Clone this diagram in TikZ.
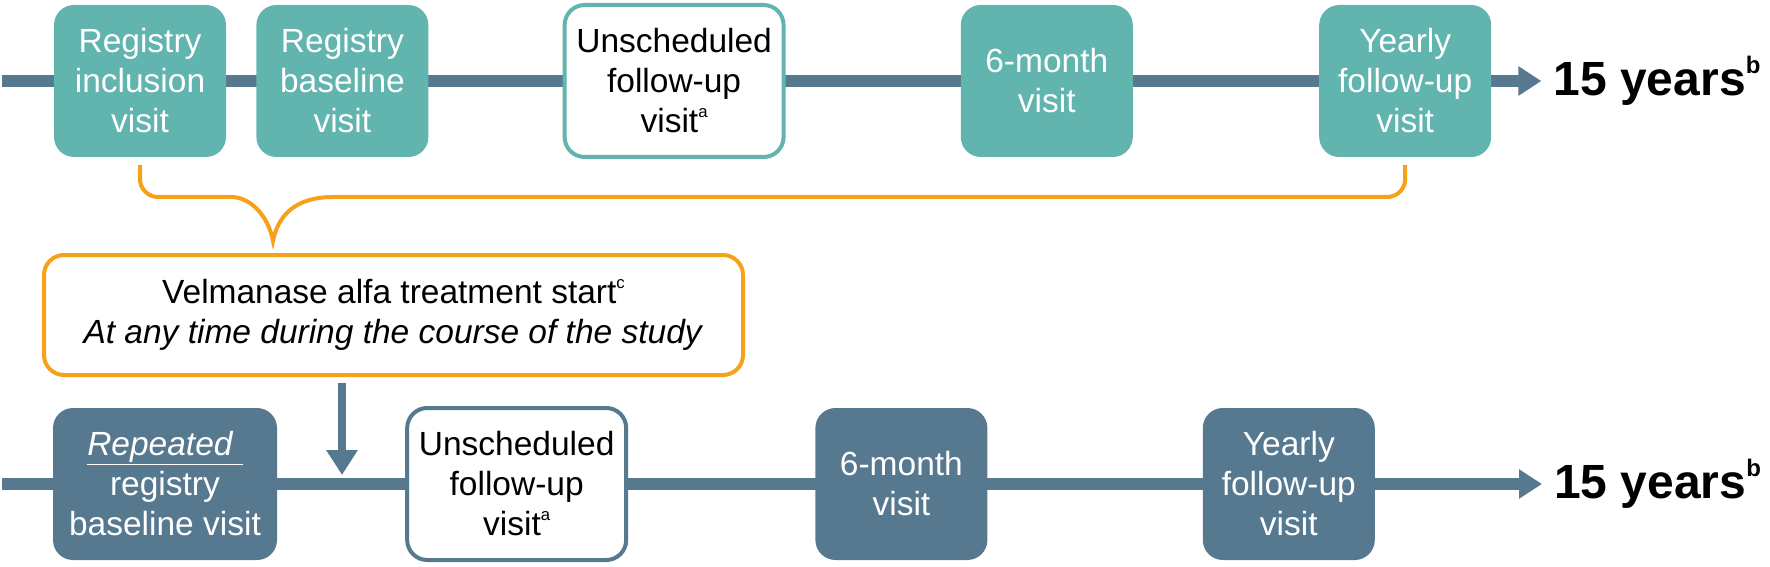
\documentclass[tikz,border=0pt]{standalone}
\usepackage{fontspec}
\setmainfont{Liberation Sans}
\usepackage{graphicx}
\usepackage{tikz}
\usetikzlibrary{positioning,arrows.meta,backgrounds}
\definecolor{myteal}{RGB}{97,181,174}
\definecolor{myslate}{RGB}{87,121,143}
\definecolor{myorange}{RGB}{247,161,27}
\newcommand\visitfont{\fontsize{33.5}{40}\selectfont}
\newcommand\yearsfont{\fontsize{48}{56}\selectfont\bfseries}
\newcommand\sups[1]{\raisebox{0.85ex}{\scalebox{.5}{#1}}}
\tikzstyle{visit}=[rounded corners=20pt, minimum width=172pt, minimum height=152pt, inner sep=2pt, align=center, font=\visitfont]
\tikzstyle{upper}=[visit, fill=myteal, text=white]
\tikzstyle{lower}=[visit, fill=myslate, text=white]
\tikzstyle{unsched}=[visit, fill=white, line width=4pt, minimum width=219pt]
\tikzstyle{startbox}=[draw=myorange, line width=4pt, rounded corners=20pt, minimum width=699pt, minimum height=120pt, align=center, font=\visitfont]
\tikzstyle{timeline}=[line width=12pt, myslate, -{Triangle[length=23pt,width=28pt]}]
\tikzstyle{droparrow}=[line width=8pt, myslate, -{Triangle[length=25pt,width=30pt]}]
\tikzstyle{brace}=[line width=4pt, myorange]

\begin{document}
\begin{tikzpicture}[x=1pt, y=1pt]

	\useasboundingbox (0,0) rectangle (1770,566);

	\node[upper] (inclA) at (140,485) {Registry\\inclusion\\visit};
	\node[upper, right=30pt of inclA] (baseA) {Registry\\baseline\\visit};
	\node[unsched, draw=myteal, right=134pt of baseA] (unsA) {Unscheduled\\follow-up\\visit\sups{a}};
	\node[upper, right=175pt of unsA] (sixA) {6-month\\visit};
	\node[upper, right=186pt of sixA] (yearA) {Yearly\\follow-up\\visit};
	\node[right=62pt of yearA, inner sep=0, font=\yearsfont] (yrsA) {15 years\sups{b}};

	\node[startbox] (vel) at (393.5,251) {Velmanase alfa treatment start\sups{c}\\\textit{At any time during the course of the study}};

	\node[lower, minimum width=224pt] (rep) at (165,82) {\underline{\textit{Repeated}\ }\\registry\\baseline visit};
	\node[unsched, draw=myslate, right=128pt of rep] (unsB) {Unscheduled\\follow-up\\visit\sups{a}};
	\node[lower, right=187pt of unsB] (sixB) {6-month\\visit};
	\node[lower, right=215pt of sixB] (yearB) {Yearly\\follow-up\\visit};
	\node[right=179pt of yearB, inner sep=0, font=\yearsfont] (yrsB) {15 years\sups{b}};

	\coordinate (startA) at (2,485);
	\coordinate (startB) at (2,82);
	\coordinate (tip) at (273,325);
	\coordinate (drop) at (342,91);

	\begin{scope}[on background layer]
		\draw[timeline] (startA) -- ([xshift=-12pt]yrsA.west);
		\draw[timeline] (startB) -- ([xshift=-12pt]yrsB.west);
	\end{scope}

	\draw[brace] ([yshift=-8pt]inclA.south) [rounded corners=18pt] |- ([shift={(-60pt,44pt)}]tip) [sharp corners]
		.. controls +(37pt,0pt) and +(-5pt,26pt) .. (tip)
		.. controls +(5pt,26pt) and +(-37pt,0pt) .. ([shift={(60pt,44pt)}]tip)
		[rounded corners=18pt] -| ([yshift=-8pt]yearA.south);

	\draw[droparrow] ([yshift=-6pt]vel.south -| drop) -- (drop);

\end{tikzpicture}
\end{document}
